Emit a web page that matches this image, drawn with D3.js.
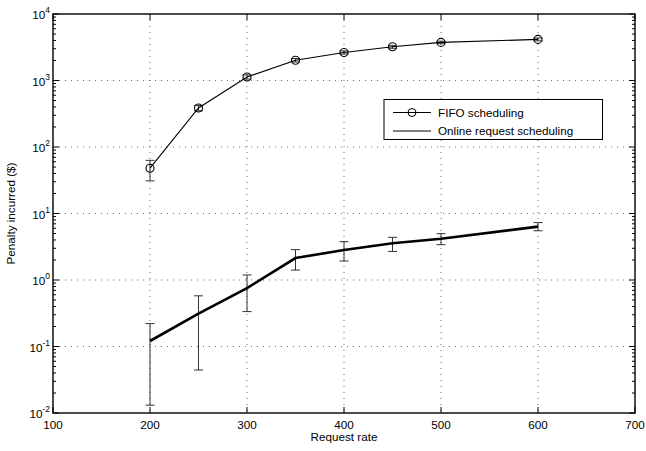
<!DOCTYPE html>
<html><head><meta charset="utf-8">
<script src="https://d3js.org/d3.v7.min.js"></script>
<style>body{margin:0;background:#fff}svg{display:block;font-family:"Liberation Sans",Arial,sans-serif}</style>
</head><body><svg id="c" width="646" height="451"></svg>
<script>
const rates = [200, 250, 300, 350, 400, 450, 500, 600];
const fifoMean = [48, 386, 1130, 2020, 2640, 3210, 3740, 4150];
const fifoLow  = [31, 350, 1050, 1900, 2500, 3050, 3580, 3950];
const fifoHigh = [63, 420, 1210, 2140, 2780, 3370, 3900, 4350];
const onlineMean = [0.121, 0.313, 0.755, 2.14, 2.82, 3.56, 4.18, 6.34];
const onlineLow  = [0.0131, 0.0443, 0.335, 1.41, 1.93, 2.69, 3.40, 5.5];
const onlineHigh = [0.221, 0.578, 1.19, 2.86, 3.77, 4.38, 4.97, 7.3];
const xTicks = [100, 200, 300, 400, 500, 600, 700];
const yExps = [-2, -1, 0, 1, 2, 3, 4];
const legendLabels = ["FIFO scheduling", "Online request scheduling"];

const svg = d3.select("#c");
const L = 53, T = 14, R = 635, B = 413;
const x = d3.scaleLinear().domain([100, 700]).range([L, R]);
const y = d3.scaleLog().domain([0.01, 10000]).range([B, T]);
const FS = 11.7;

const g = svg.append("g");
xTicks.slice(1, -1).forEach(v => g.append("line").attr("x1", x(v)).attr("x2", x(v)).attr("y1", T).attr("y2", B)
  .attr("stroke", "#444").attr("stroke-width", 0.8).attr("stroke-dasharray", "1,5"));
yExps.slice(1, -1).forEach(e => g.append("line").attr("x1", L).attr("x2", R).attr("y1", y(Math.pow(10, e))).attr("y2", y(Math.pow(10, e)))
  .attr("stroke", "#444").attr("stroke-width", 0.8).attr("stroke-dasharray", "1,5"));

const minor = [];
for (let e = -2; e < 4; e++) for (let k = 2; k <= 9; k++) minor.push(k * Math.pow(10, e));
minor.forEach(v => {
  g.append("line").attr("x1", L).attr("x2", L + 3).attr("y1", y(v)).attr("y2", y(v)).attr("stroke", "#000");
  g.append("line").attr("x1", R).attr("x2", R - 3).attr("y1", y(v)).attr("y2", y(v)).attr("stroke", "#000");
});
yExps.forEach(e => {
  const v = Math.pow(10, e);
  g.append("line").attr("x1", L).attr("x2", L + 6).attr("y1", y(v)).attr("y2", y(v)).attr("stroke", "#000");
  g.append("line").attr("x1", R).attr("x2", R - 6).attr("y1", y(v)).attr("y2", y(v)).attr("stroke", "#000");
  const t = g.append("text").attr("x", L - 3).attr("y", y(v) + 5).attr("text-anchor", "end").attr("font-size", FS);
  t.append("tspan").text("10");
  t.append("tspan").attr("dy", -6).attr("font-size", 8.5).text(String(e));
});
xTicks.forEach(v => {
  g.append("line").attr("x1", x(v)).attr("x2", x(v)).attr("y1", B).attr("y2", B - 6).attr("stroke", "#000");
  g.append("line").attr("x1", x(v)).attr("x2", x(v)).attr("y1", T).attr("y2", T + 6).attr("stroke", "#000");
  g.append("text").attr("x", x(v)).attr("y", B + 16).attr("text-anchor", "middle").attr("font-size", FS).text(v);
});

g.append("rect").attr("x", L).attr("y", T).attr("width", R - L).attr("height", B - T)
  .attr("fill", "none").attr("stroke", "#000").attr("stroke-width", 1.4);

svg.append("text").attr("x", (L + R) / 2).attr("y", 441).attr("text-anchor", "middle").attr("font-size", FS).text("Request rate");
svg.append("text").attr("transform", `translate(15,${(T + B) / 2}) rotate(-90)`).attr("text-anchor", "middle")
  .attr("font-size", FS).text("Penalty incurred ($)");

function errBars(mean, lo, hi) {
  rates.forEach((r, i) => {
    const cx = x(r);
    g.append("line").attr("x1", cx).attr("x2", cx).attr("y1", y(lo[i])).attr("y2", y(hi[i])).attr("stroke", "#333").attr("stroke-width", 1);
    [lo[i], hi[i]].forEach(v => g.append("line").attr("x1", cx - 4.5).attr("x2", cx + 4.5).attr("y1", y(v)).attr("y2", y(v))
      .attr("stroke", "#333").attr("stroke-width", 1));
  });
}
errBars(fifoMean, fifoLow, fifoHigh);
errBars(onlineMean, onlineLow, onlineHigh);

const line = d3.line().x((d, i) => x(rates[i])).y(d => y(d));
g.append("path").attr("d", line(fifoMean)).attr("fill", "none").attr("stroke", "#000").attr("stroke-width", 1.1);
g.selectAll(".m").data(fifoMean).enter().append("circle").attr("cx", (d, i) => x(rates[i])).attr("cy", d => y(d))
  .attr("r", 4).attr("fill", "none").attr("stroke", "#000").attr("stroke-width", 1.1);
g.append("path").attr("d", line(onlineMean)).attr("fill", "none").attr("stroke", "#000").attr("stroke-width", 2.6);

const lg = svg.append("g");
lg.append("rect").attr("x", 384).attr("y", 99.5).attr("width", 218.5).attr("height", 40).attr("fill", "#fff").attr("stroke", "#000").attr("stroke-width", 1);
lg.append("line").attr("x1", 393).attr("x2", 431).attr("y1", 112.5).attr("y2", 112.5).attr("stroke", "#000");
lg.append("circle").attr("cx", 412).attr("cy", 112.5).attr("r", 4).attr("fill", "none").attr("stroke", "#000");
lg.append("line").attr("x1", 393).attr("x2", 431).attr("y1", 131).attr("y2", 131).attr("stroke", "#000");
legendLabels.forEach((s, i) => lg.append("text").attr("x", 438).attr("y", [116.8, 135.3][i]).attr("font-size", FS).text(s));
</script></body></html>
